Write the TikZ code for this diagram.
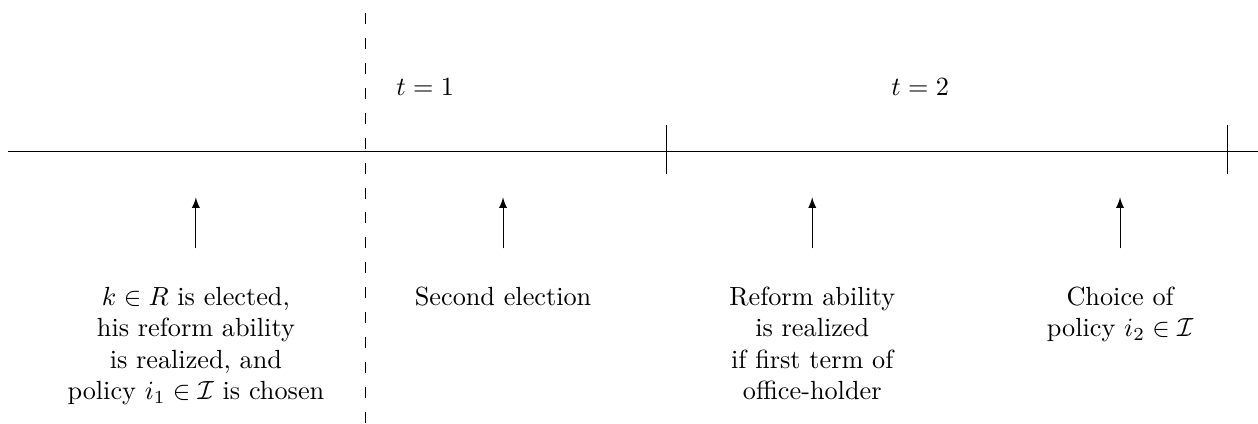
\documentclass[tikz,border=0pt]{standalone}
\usepackage{amsmath,amssymb}
\usetikzlibrary{arrows}

\begin{document}
\begin{tikzpicture}[scale=0.914,>=latex,line cap=butt,
  evtext/.style={anchor=north,align=center,inner sep=2pt}]
  % timeline: two periods, second election between them, events pointing up to the axis
  \useasboundingbox (0,0) rectangle (18.43,6.20);
  \def\ax{3.985}
  \coordinate (L) at (0.12,\ax);
  \coordinate (R) at (18.43,\ax);
  \draw (L) -- (R);
  \coordinate (dtop) at (5.36,6.01);
  \coordinate (dbot) at (5.36,0);
  \draw[dash pattern=on 4.2pt off 5.3pt] (dtop) -- (dbot);
  \foreach \x/\n in {9.77/m,17.98/e} {
    \coordinate (\n up) at (\x,{\ax+0.39});
    \coordinate (\n dn) at (\x,{\ax-0.33});
    \draw (\n up) -- (\n dn);
  }
  \node (t1) at (6.23,4.92) {$t=1$};
  \node (t2) at (13.48,4.92) {$t=2$};
  % events below the axis
  \foreach \x/\n in {2.87/1,7.37/2,11.90/3,16.41/4} {
    \coordinate (tip\n) at (\x,3.31);
    \coordinate (foot\n) at (\x,2.56);
    \draw[->] (foot\n) -- (tip\n);
  }
  \node[evtext] (ev1) at (2.87,2.08) {$k\in R$ is elected,\\ his reform ability\\ is realized, and\\ policy $i_1\in\mathcal{I}$ is chosen};
  \node[evtext] (ev2) at (7.37,2.08) {Second election};
  \node[evtext] (ev3) at (11.90,2.08) {Reform ability\\ is realized\\ if first term of\\ office-holder};
  \node[evtext] (ev4) at (16.41,2.08) {Choice of\\ policy $i_2\in\mathcal{I}$};
\end{tikzpicture}
\end{document}
